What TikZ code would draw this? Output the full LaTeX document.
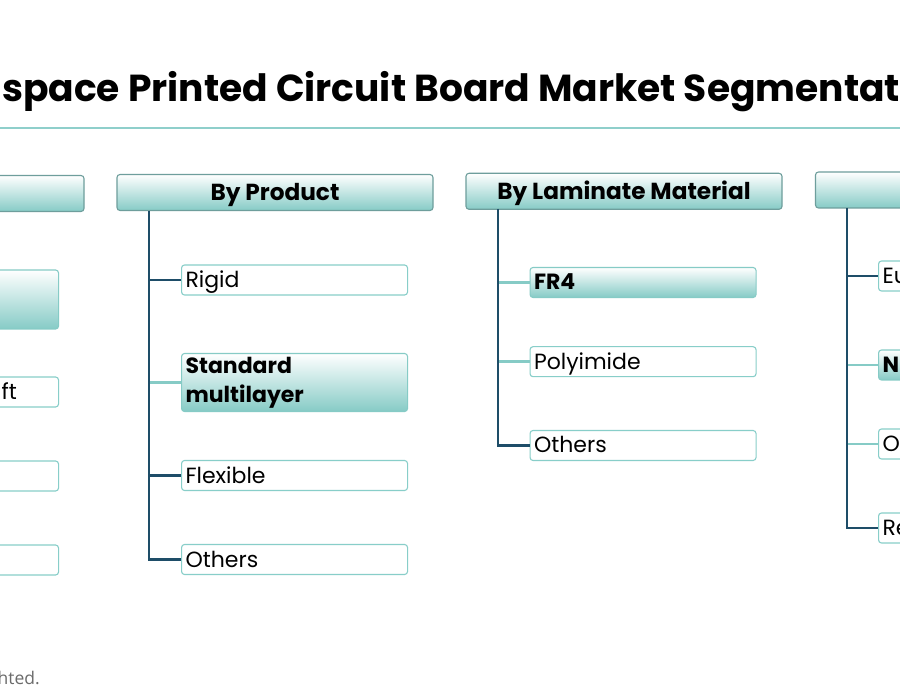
\documentclass[tikz,border=0pt]{standalone}
\usepackage{fontspec}
\setmainfont{Poppins}
\newfontfamily\footfont{Open Sans}
\definecolor{navy}{HTML}{1E4D68}
\definecolor{tealrule}{HTML}{8FCFCB}
\definecolor{tealdeep}{HTML}{86CBC6}
\definecolor{headline}{HTML}{6E9E9C}
\definecolor{itemline}{HTML}{88CEC9}
\definecolor{footgray}{HTML}{6B6B6B}

\begin{document}
\begin{tikzpicture}[x=1pt,y=1pt]
\tikzstyle{every node}+=[inner sep=0pt]
\tikzstyle{head}=[draw=headline, line width=1.1pt, rounded corners=3pt, top color=white, bottom color=tealdeep, minimum width=316, minimum height=36, text height=16, text depth=0, font=\fontsize{23.2}{26}\selectfont\bfseries]
\tikzstyle{box}=[draw=itemline, line width=1.1pt, rounded corners=3pt, fill=white, anchor=west, inner xsep=4, text width=218, minimum height=30, align=left, font=\fontsize{22}{29}\selectfont]
\tikzstyle{item}=[box, text height=15, text depth=0]
\tikzstyle{hitem}=[box, draw=tealdeep, top color=white, bottom color=tealdeep, font=\fontsize{22}{29}\selectfont\bfseries]
\tikzstyle{trunk}=[navy, line width=2.6pt]
\tikzstyle{stub}=[navy, line width=2.4pt]
\tikzstyle{lstub}=[tealdeep, line width=2.4pt]
\useasboundingbox (0,0) rectangle (900,-700);
\clip (0,0) rectangle (900,-700);
\fill [white] (0,0) rectangle (900,-700);
\node [anchor=base west, font=\fontsize{37.6}{40}\selectfont\bfseries] (title) at (2,-102) {space Printed Circuit Board Market Segmentat};
\draw [tealrule, line width=2pt] (0,-128) -- (900,-128);
\node [head] (hPlat) at (-74,-193.5) {};
\node [hitem, minimum height=59] (aHl) at (-168,-299.5) {};
\node [item] (aCra) at (-168,-392) {};
\node [anchor=base east, font=\fontsize{22}{29}\selectfont] (aLab) at (17,-399.5) {ft};
\node [item] (aThr) at (-168,-476) {};
\node [item] (aFou) at (-168,-560) {};
\node [head] (hProd) at (275,-192.5) {By Product};
\coordinate (tProd) at (149,-211);
\node [item] (pRig) at (181,-280) {Rigid};
\node [hitem, minimum height=58] (pStd) at (181,-382.5) {Standard\\multilayer};
\node [item] (pFlx) at (181,-475.5) {Flexible};
\node [item] (pOth) at (181,-559.5) {Others};
\draw [stub] (pRig.west -| tProd) -- (pRig.west);
\draw [lstub] (pStd.west -| tProd) -- (pStd.west);
\draw [stub] (pFlx.west -| tProd) -- (pFlx.west);
\draw [trunk] (tProd) |- (pOth.west);
\node [head] (hLam) at (624,-191.3) {By Laminate Material};
\coordinate (tLam) at (498,-209);
\node [hitem, text height=15, text depth=0] (lFr) at (529.5,-282.5) {FR4};
\node [item] (lPol) at (529.5,-361.7) {Polyimide};
\node [item] (lOth) at (529.5,-445.5) {Others};
\draw [lstub] (lFr.west -| tLam) -- (lFr.west);
\draw [lstub] (lPol.west -| tLam) -- (lPol.west);
\draw [trunk] (tLam) |- (lOth.west);
\node [head] (hReg) at (973.5,-190) {};
\coordinate (tReg) at (847,-208);
\node [item] (rEu) at (878,-276) {Eu};
\node [hitem, text height=15, text depth=0] (rNa) at (878,-365) {N};
\node [item] (rOt) at (878,-444) {O};
\node [item] (rRe) at (878,-528) {Re};
\draw [stub] (rEu.west -| tReg) -- (rEu.west);
\draw [lstub] (rNa.west -| tReg) -- (rNa.west);
\draw [lstub] (rOt.west -| tReg) -- (rOt.west);
\draw [trunk] (tReg) |- (rRe.west);
\node [anchor=base east, text=footgray, font=\footfont\fontsize{17.5}{20}\selectfont] (foot) at (40,-684) {ghted.};
\end{tikzpicture}
\end{document}
